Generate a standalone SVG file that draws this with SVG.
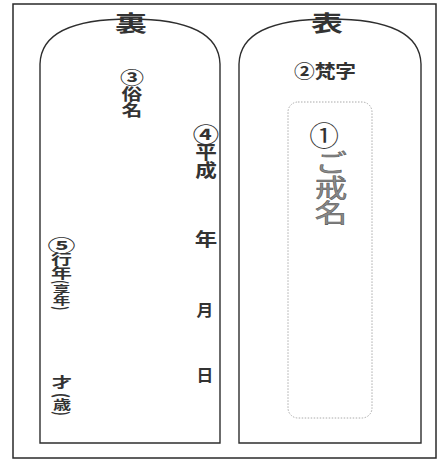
<svg xmlns="http://www.w3.org/2000/svg" width="442" height="459" viewBox="0 0 442 459">
<style>
.frame{fill:none;stroke:#2a2a2a;stroke-width:1.5}
.panel{fill:none;stroke:#2e2e2e;stroke-width:1.4}
.dot{fill:none;stroke:#aaa;stroke-width:1;stroke-dasharray:1.5 1.5}
.t{font-family:"Noto Sans CJK JP","Noto Sans",sans-serif;fill:#333}
.b{font-weight:bold}
.g{fill:#8a8a8a;stroke:#555;stroke-width:0.5}
.v{writing-mode:vertical-rl}
</style>
<rect width="442" height="459" fill="#fff"/>
<rect class="frame" x="13" y="4" width="423" height="454"/>
<g id="back">
<path class="panel" d="M40,443 L40,64 C41,30 80,19 130,19 C180,19 219,30 220,64 L220,443 Z"/>
<text class="t b" transform="translate(131,31) scale(1.45,1)" font-size="22" text-anchor="middle">裏</text>
<text class="t b" transform="translate(132,84) scale(1.2,0.85)" font-size="20" text-anchor="middle">③</text>
<text class="t b v" transform="translate(132,0) scale(1.3,1)" y="86" font-size="16">俗名</text>
<text class="t b" transform="translate(206,141.5) scale(1.2,0.95)" font-size="22" text-anchor="middle">④</text>
<text class="t b v" transform="translate(206,0) scale(1.2,1)" y="143" font-size="18">平成</text>
<text class="t b" transform="translate(206,246) scale(1.25,1)" font-size="18" text-anchor="middle">年</text>
<text class="t b" transform="translate(205,316) scale(1.05,1)" font-size="16" text-anchor="middle">月</text>
<text class="t b" transform="translate(205,381) scale(1.05,1)" font-size="16" text-anchor="middle">日</text>
<text class="t b" transform="translate(61.5,251.5) scale(1.4,0.85)" font-size="20" text-anchor="middle">⑤</text>
<text class="t b v" transform="translate(61.5,0) scale(1.5,1)" y="252" font-size="14">行年</text>
<text class="t b v" transform="translate(61.5,0) scale(1.6,1)" y="280" font-size="11">(享年)</text>
<text class="t b" transform="translate(62,387) scale(1.45,1)" font-size="14" text-anchor="middle">才</text>
<text class="t b v" transform="translate(62,0) scale(1.4,1)" y="393" font-size="13">(歳)</text>
</g>
<g id="front">
<path class="panel" d="M239,443 L239,64 C240,30 279,19 330,19 C381,19 420,30 421,64 L421,443 Z"/>
<text class="t b" transform="translate(327,31) scale(1.45,1)" font-size="22" text-anchor="middle">表</text>
<text class="t b" transform="translate(325,78) scale(1.15,1)" font-size="18" text-anchor="middle">②梵字</text>
<rect class="dot" x="288" y="102" width="84" height="316" rx="10"/>
<text class="t" transform="translate(324,146) scale(1.1,1)" font-size="27" text-anchor="middle">①</text>
<text class="t g v" transform="translate(331,0) scale(1.3,1)" y="150" font-size="25">ご戒名</text>
</g>
</svg>
